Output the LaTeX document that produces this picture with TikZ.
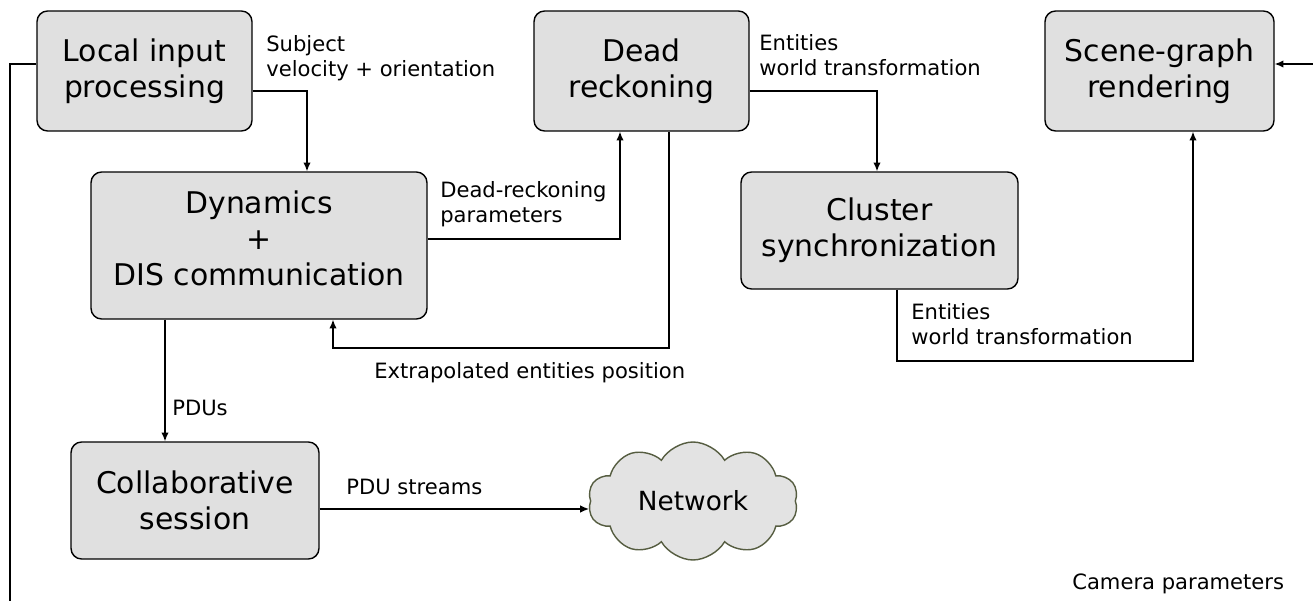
\documentclass[tikz,border=0pt]{standalone}
\usepackage{fontspec}
\setmainfont{DejaVu Sans}
\usetikzlibrary{arrows.meta,shapes.symbols}
\definecolor{boxgray}{HTML}{E0E0E0}
\definecolor{cloudgray}{HTML}{E3E3E3}
\definecolor{cloudline}{HTML}{565D41}
\tikzset{
  block/.style={draw=black, line width=0.8pt, fill=boxgray, rounded corners=6pt,
    inner sep=0pt, align=center, font=\fontsize{17}{20.5}\selectfont},
  lbl/.style={inner sep=0pt, anchor=north west, align=left, font=\fontsize{12}{14.2}\selectfont},
  conn/.style={line width=0.7pt},
  arr/.style={conn, -{Latex[length=5pt,width=4.2pt]}},
}
\begin{document}
\begin{tikzpicture}[x=0.02cm, y=-0.02cm]
\useasboundingbox (0,0) rectangle (1313,601);
% blocks
\node[block, minimum width=4.3cm, minimum height=2.4cm] (lip) at (144.5,71) {Local input\\processing};
\node[block, minimum width=4.3cm, minimum height=2.4cm] (dr) at (641.5,71) {Dead\\reckoning};
\node[block, minimum width=4.58cm, minimum height=2.4cm] (sgr) at (1159.5,71) {Scene-graph\\rendering};
\node[block, minimum width=6.72cm, minimum height=2.94cm] (dyn) at (259,245.5) {Dynamics\\+\\DIS communication\\[-12.5pt]\mbox{}};
\node[block, minimum width=5.54cm, minimum height=2.34cm] (cs) at (879.5,230.5) {Cluster\\synchronization};
\node[block, minimum width=4.96cm, minimum height=2.34cm] (col) at (195,500.5) {Collaborative\\session};
\node[cloud, cloud puffs=10, cloud puff arc=120, aspect=1.8, draw=cloudline, line width=0.8pt,
  fill=cloudgray, minimum width=4.2cm, minimum height=2.36cm, inner sep=0pt,
  font=\fontsize{15}{18}\selectfont] (net) at (693,501) {Network};
% free ends
\coordinate (camL) at (10,601);
\coordinate (camR) at (1313,64);
% connectors
\draw[arr] (lip.east |- 0,91) -| (307,0 |- dyn.north);
\draw[arr] (dyn.east |- 0,239) -| (620,0 |- dr.south);
\draw[arr] (669,0 |- dr.south) -- (669,348) -- (333,348) -- (333,0 |- dyn.south);
\draw[arr] (dr.east |- 0,91) -| (877,0 |- cs.north);
\draw[arr] (897,0 |- cs.south) -- (897,361) -| (1193,0 |- sgr.south);
\draw[arr] (165,0 |- dyn.south) -- (165,0 |- col.north);
\draw[arr] (col.east |- 0,509) -- (589,509);
\draw[conn] (lip.west |- 0,64) -| (camL);
\draw[arr] (camR) -- (sgr.east |- camR);
% labels
\node[lbl] (l1) at (266,35) {Subject\\velocity + orientation};
\node[lbl] (l2) at (440,181) {Dead-reckoning\\parameters};
\node[lbl] (l3) at (759,34) {Entities\\world transformation};
\node[lbl] (l4) at (911,303) {Entities\\world transformation};
\node[lbl] (l5) at (374,362) {Extrapolated entities position};
\node[lbl] (l6) at (172,400) {PDUs};
\node[lbl] (l7) at (346,479) {PDU streams};
\node[lbl] (l8) at (1072,574) {Camera parameters};
\end{tikzpicture}
\end{document}
